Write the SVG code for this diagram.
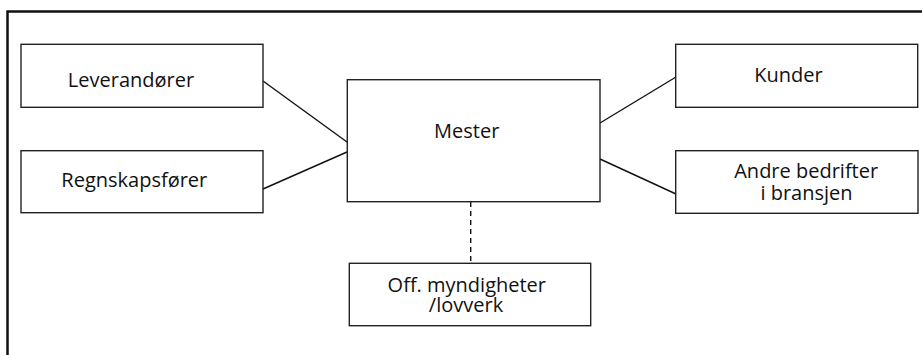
<svg xmlns="http://www.w3.org/2000/svg" width="922" height="355" viewBox="0 0 922 355">
<style>
.box{fill:#fff;stroke:#222;stroke-width:1.4}
.lbl{font-family:"Open Sans","Noto Sans",sans-serif;font-size:20px;fill:#111;text-anchor:middle}
.con{stroke:#111;stroke-width:1.4;fill:none}
.dash{stroke-dasharray:5 4}
</style>
<rect width="922" height="355" fill="#fff"/>
<rect x="7.5" y="11.5" width="930" height="360" fill="none" stroke="#111" stroke-width="2.5"/>
<g id="connectors">
<line class="con" x1="263" y1="81" x2="347" y2="142"/>
<line class="con" x1="263" y1="189" x2="347" y2="152"/>
<line class="con" x1="600" y1="123" x2="676" y2="77"/>
<line class="con" x1="600" y1="159" x2="676" y2="194"/>
<line class="con dash" x1="470.7" y1="202" x2="470.7" y2="263"/>
</g>
<g id="leverandorer">
<rect class="box" x="21" y="44.3" width="242" height="63"/>
<text class="lbl" x="131" y="86.7">Leverandører</text>
</g>
<g id="regnskapsforer">
<rect class="box" x="21" y="150.7" width="242" height="62"/>
<text class="lbl" x="134.3" y="186.7">Regnskapsfører</text>
</g>
<g id="mester">
<rect class="box" x="347.3" y="79.7" width="252.7" height="122"/>
<text class="lbl" x="466.7" y="138.3">Mester</text>
</g>
<g id="kunder">
<rect class="box" x="675.7" y="44.3" width="242" height="63"/>
<text class="lbl" x="788.5" y="81.7">Kunder</text>
</g>
<g id="andre">
<rect class="box" x="675.7" y="150.7" width="242.3" height="62.6"/>
<text class="lbl" x="806.2" y="178.3">Andre bedrifter</text>
<text class="lbl" x="806.5" y="200">i bransjen</text>
</g>
<g id="offentlige">
<rect class="box" x="349.3" y="263.3" width="241.4" height="62.4"/>
<text class="lbl" x="466.8" y="291.7">Off. myndigheter</text>
<text class="lbl" x="466" y="312.3">/lovverk</text>
</g>
</svg>
